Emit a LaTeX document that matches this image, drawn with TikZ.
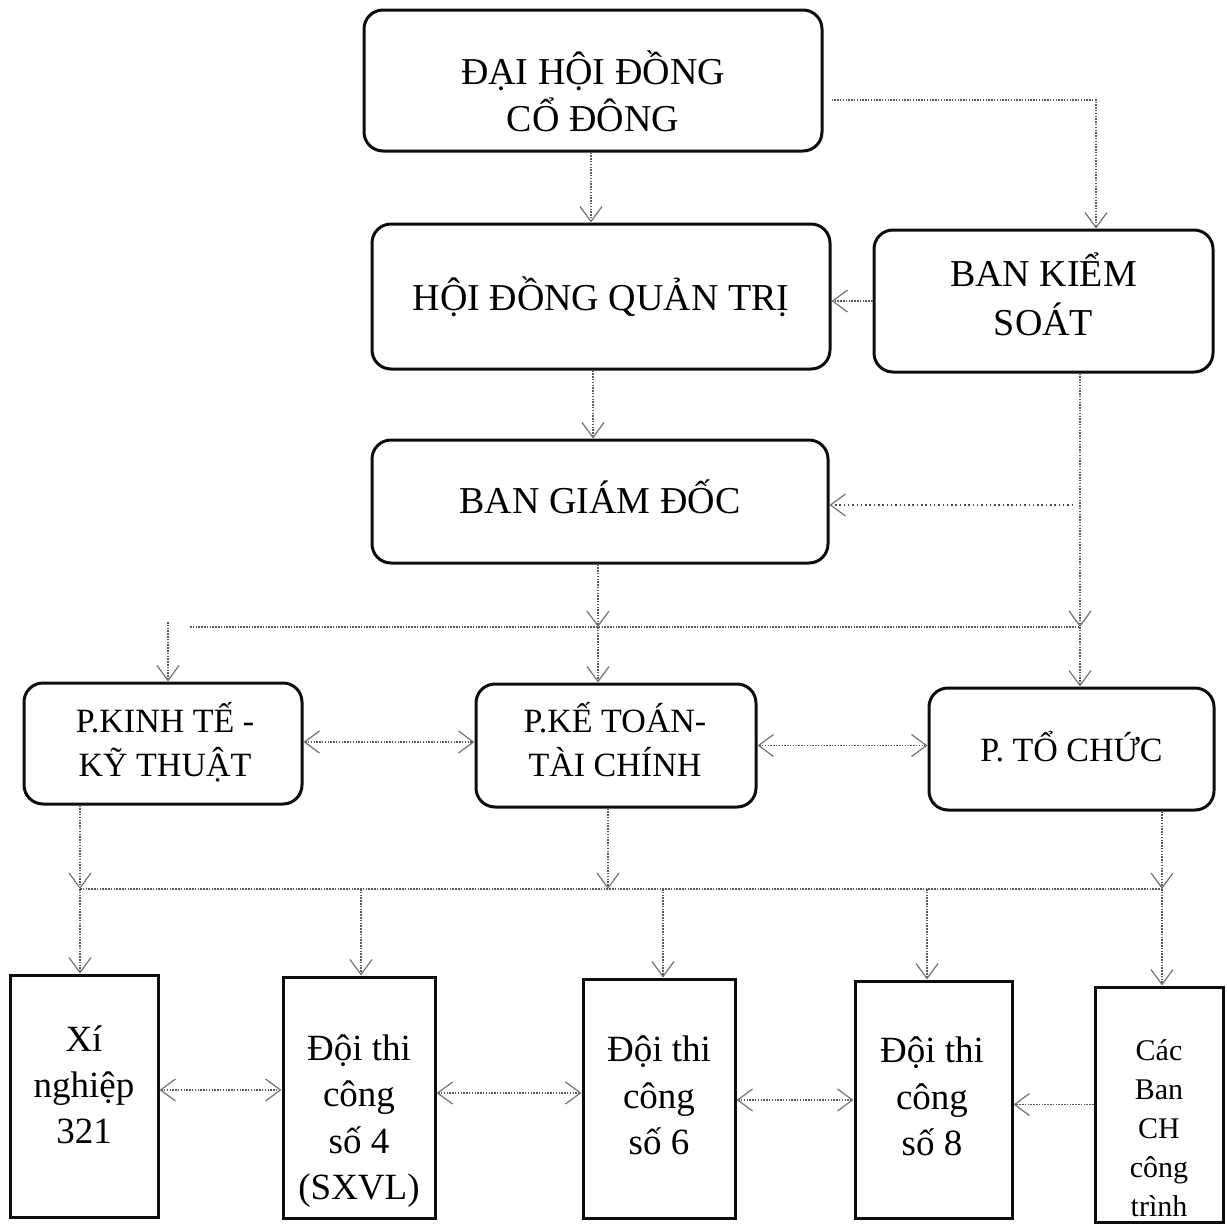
\documentclass[tikz,border=0pt]{standalone}
\usepackage{fontspec}
\setmainfont{Liberation Serif}
\usetikzlibrary{arrows.meta}
\begin{document}
\begin{tikzpicture}[x=1pt,y=-1pt,
  box/.style={draw=black!95, line width=3pt, rounded corners=19pt, inner sep=0pt},
  sq/.style={draw=black!95, line width=3pt, inner sep=0pt},
  txt/.style={align=center, inner sep=0pt},
  conn/.style={draw=black!65, line width=1.3pt, dash pattern=on 1.5pt off 1.3pt},
  loose/.style={draw=black!70, line width=1.4pt, dash pattern=on 1.5pt off 2.8pt},
  >={Straight Barb[length=15pt,width=22pt,line width=1.2pt,color=black!55]},
]
\fill[white] (0,0) rectangle (1227,1226);
\useasboundingbox (0,0) rectangle (1227,1226);

% boxes
\node[box, minimum width=458pt, minimum height=141pt] (dhd) at (593,80.5) {};
\node[box, minimum width=458pt, minimum height=145pt] (hdqt) at (601,296.5) {};
\node[box, minimum width=339pt, minimum height=142pt] (bks) at (1043.5,301) {};
\node[box, minimum width=456pt, minimum height=123pt] (bgd) at (600,501.5) {};
\node[box, minimum width=278pt, minimum height=121pt] (pkt) at (163,743.5) {};
\node[box, minimum width=280pt, minimum height=123pt] (pkttc) at (616,745.5) {};
\node[box, minimum width=285pt, minimum height=122pt] (ptc) at (1071.5,749) {};
\node[sq, minimum width=148pt, minimum height=242pt] (xn) at (84,1096) {};
\node[sq, minimum width=152pt, minimum height=241pt] (d4) at (359,1097.5) {};
\node[sq, minimum width=152pt, minimum height=239pt] (d6) at (659,1098.5) {};
\node[sq, minimum width=157pt, minimum height=237pt] (d8) at (933.5,1099.5) {};
\node[sq, minimum width=128pt, minimum height=235pt] (cb) at (1159,1104.5) {};

% texts
\node[txt, font=\fontsize{38}{47}\selectfont] (dhdT) at (593,91) {ĐẠI HỘI ĐỒNG\\CỔ ĐÔNG};
\node[txt, font=\fontsize{38}{47}\selectfont] (hdqtT) at (601,296.5) {HỘI ĐỒNG QUẢN TRỊ};
\node[txt, font=\fontsize{38}{49}\selectfont] (bksT) at (1043.5,294) {BAN KIỂM\\SOÁT};
\node[txt, font=\fontsize{38}{47}\selectfont] (bgdT) at (600,496.5) {BAN GIÁM ĐỐC};
\node[txt, font=\fontsize{34}{44}\selectfont] (pktT) at (165,742.5) {P.KINH TẾ -\\KỸ THUẬT};
\node[txt, font=\fontsize{34}{44}\selectfont] (pkttcT) at (615,740) {P.KẾ TOÁN-\\TÀI CHÍNH};
\node[txt, font=\fontsize{34}{44}\selectfont] (ptcT) at (1071.5,746.5) {P. TỔ CHỨC};
\node[txt, font=\fontsize{37}{46}\selectfont] (xnT) at (84,1085) {Xí\\nghiệp\\321};
\node[txt, font=\fontsize{37}{46.5}\selectfont] (d4T) at (359,1121) {Đội thi\\công\\số 4\\(SXVL)};
\node[txt, font=\fontsize{37}{46.5}\selectfont] (d6T) at (659,1095.5) {Đội thi\\công\\số 6};
\node[txt, font=\fontsize{37}{46.5}\selectfont] (d8T) at (932,1096.5) {Đội thi\\công\\số 8};
\node[txt, font=\fontsize{30}{39}\selectfont] (cbT) at (1159,1128) {Các\\Ban\\CH\\công\\trình};

% connectors, top part
\path ([xshift=-2pt]dhd.south) coordinate (a1);
\draw[conn,->] (a1) -- (a1 |- hdqt.north);

\path ([xshift=8pt,yshift=-19.5pt]dhd.east) coordinate (a2);
\path ([xshift=52.5pt]bks.north) coordinate (k1);
\draw[conn,->] (a2) -- (a2 -| k1) -- (k1);

\draw[conn,->] (bks.west) -- (bks.west -| hdqt.east);

\path ([xshift=-8pt]hdqt.south) coordinate (a4);
\draw[conn,->] (a4) -- (a4 |- bgd.north);

\coordinate (h1L) at (190,627);
\coordinate (h1R) at (1080,627);
\path ([xshift=36.5pt]bks.south) coordinate (c5);
\draw[conn,->] (c5) -- (c5 |- h1R);
\draw[conn,->] (h1R) -- (h1R |- ptc.north);
\draw[conn] (h1L) -- (h1R);

\coordinate (g6) at (1073,505);
\draw[loose,->] (g6) -- (g6 -| bgd.east);

\path ([xshift=-2pt]bgd.south) coordinate (d8s);
\draw[conn,->] (d8s) -- (d8s |- h1L);
\draw[conn,->] (d8s |- h1L) -- (d8s |- pkttc.north);

\coordinate (e9) at (168,622);
\draw[conn,->] (e9) -- (e9 |- pkt.north);

% middle row links
\path ([yshift=1.5pt]pkt.east) coordinate (m1);
\draw[conn,<->] (m1) -- (m1 -| pkttc.west);
\draw[conn,<->] (pkttc.east) -- (pkttc.east -| ptc.west);

% connectors, lower part
\path ([xshift=-83pt]pkt.south) coordinate (e10);
\coordinate (h2L) at (80,889);
\coordinate (h2R) at (1162,889);
\draw[conn,->] (e10) -- (e10 |- h2L);
\draw[conn,->] (e10 |- h2L) -- (e10 |- xn.north);
\draw[conn] (h2L) -- (h2R);
\path ([xshift=-8pt]pkttc.south) coordinate (f12);
\draw[conn,->] (f12) -- (f12 |- h2L);
\path ([xshift=90.5pt]ptc.south) coordinate (g13);
\draw[conn,->] (g13) -- (g13 |- h2R);
\draw[conn,->] (g13 |- h2R) -- (g13 |- cb.north);
\path ([xshift=2pt]d4.north) coordinate (n4);
\draw[conn,->] (n4 |- h2L) -- (n4);
\path ([xshift=4pt]d6.north) coordinate (n6);
\draw[conn,->] (n6 |- h2L) -- (n6);
\path ([xshift=-6.5pt]d8.north) coordinate (n8);
\draw[conn,->] (n8 |- h2L) -- (n8);

% bottom row links
\path ([yshift=6pt]xn.east) coordinate (b1);
\draw[conn,<->] (b1) -- (b1 -| d4.west);
\path ([yshift=4.5pt]d4.east) coordinate (b2);
\draw[conn,<->] (b2) -- (b2 -| d6.west);
\path ([yshift=-1.5pt]d6.east) coordinate (b3);
\draw[conn,<->] (b3) -- (b3 -| d8.west);
\draw[conn,->] (cb.west) -- (cb.west -| d8.east);
\end{tikzpicture}
\end{document}
